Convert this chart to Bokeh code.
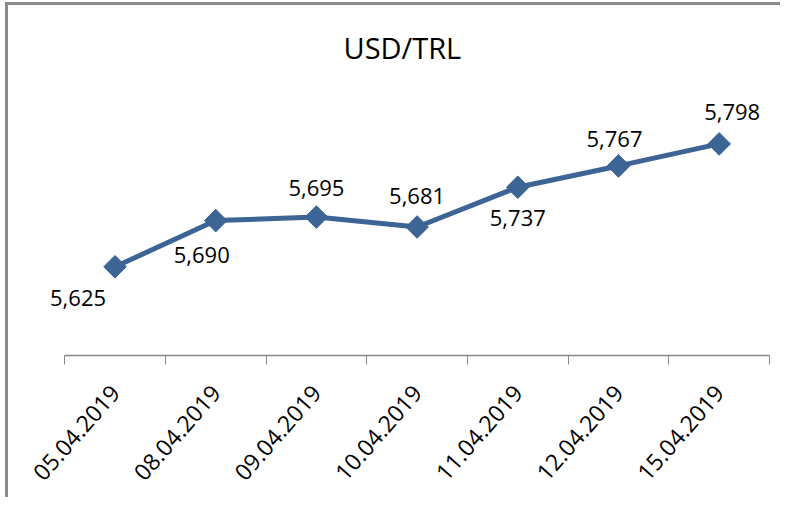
from math import pi
from bokeh.plotting import figure
from bokeh.models import ColumnDataSource, FixedTicker, Range1d, Title, LabelSet
from bokeh.core.properties import value
from bokeh.embed import file_html
from bokeh.resources import INLINE

dates = ["05.04.2019", "08.04.2019", "09.04.2019", "10.04.2019",
         "11.04.2019", "12.04.2019", "15.04.2019"]
rates = [5.625, 5.690, 5.695, 5.681, 5.737, 5.767, 5.798]
rate_labels = ["5,625", "5,690", "5,695", "5,681", "5,737", "5,767", "5,798"]

# label placement offsets in pixels (style only; + y is up for LabelSet)
label_dx = [-37, -14, 0, 0, 0, -4, 13]
label_dy = [-31, -34, 29, 31, -31, 27, 32]

xs = [i + 0.5 for i in range(len(dates))]
src = ColumnDataSource(dict(x=xs, y=rates, lab=rate_labels, dx=label_dx, dy=label_dy))

FONT = "Open Sans"
BLUE = "#3C6494"

p = figure(width=775, height=495, output_backend="svg", toolbar_location=None,
           x_range=Range1d(-0.3, len(dates)), y_range=Range1d(5.5, 5.9),
           y_axis_location=None, min_border_left=26, min_border_right=14,
           min_border_top=66, min_border_bottom=145)
p.outline_line_color = None
p.grid.visible = False
p.styles = {"border-left": "3px solid #8a8a8a", "border-top": "3px solid #8a8a8a",
            "margin-left": "5px", "margin-top": "2px"}

t = Title(text="USD/TRL", align="left", offset=309, text_font=FONT,
          text_font_size="29px", text_font_style="normal", text_color="#000000")
p.add_layout(t, "above")

p.line("x", "y", source=src, line_color=BLUE, line_width=5)
p.scatter("x", "y", source=src, marker="square", angle=pi / 4, size=16,
          fill_color=BLUE, line_color=BLUE)

labels = LabelSet(x="x", y="y", text="lab", source=src, x_offset="dx", y_offset="dy",
                  text_align="center", text_baseline="middle", text_font=value(FONT),
                  text_font_size=value("22px"), text_color=value("#000000"))
p.add_layout(labels)

ax = p.xaxis[0]
ax.bounds = (0, len(dates))
ax.ticker = FixedTicker(ticks=xs, minor_ticks=list(range(len(dates) + 1)))
ax.major_label_overrides = {x: d for x, d in zip(xs, dates)}
ax.major_label_orientation = 0.85
ax.major_label_text_font = FONT
ax.major_label_text_font_size = "23px"
ax.major_label_text_color = "#000000"
ax.major_label_standoff = 24
ax.major_tick_line_color = None
ax.minor_tick_in = 0
ax.minor_tick_out = 9
ax.minor_tick_line_color = "#868686"
ax.axis_line_color = "#868686"
ax.axis_line_width = 1.5

open("out.html", "w").write(file_html(p, INLINE))
